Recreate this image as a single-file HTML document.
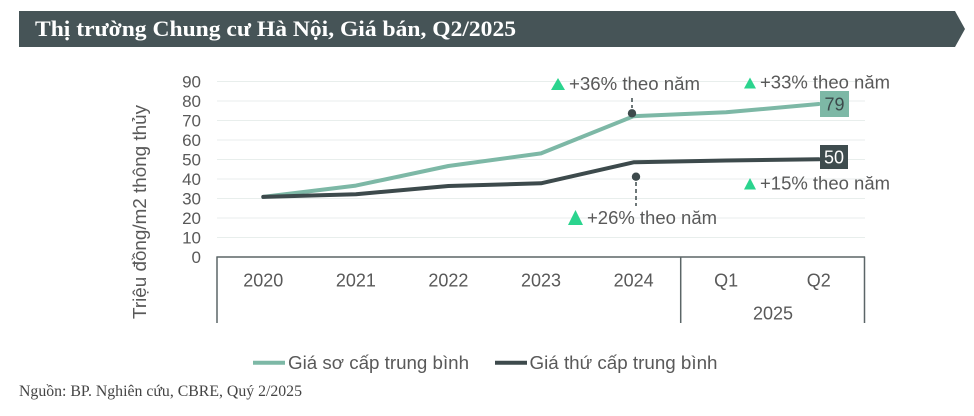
<!DOCTYPE html>
<html>
<head>
<meta charset="utf-8">
<style>
html,body{margin:0;padding:0;background:#fff;}
svg{display:block;}
</style>
</head>
<body>
<svg width="974" height="416" viewBox="0 0 974 416" xmlns="http://www.w3.org/2000/svg">
  <!-- Header bar -->
  <polygon points="19,11 955,11 965,29 955,47 19,47" fill="#465457"/>
  <text x="35" y="36" font-family="Liberation Serif, serif" font-weight="bold" font-size="22" fill="#ffffff" textLength="481" lengthAdjust="spacingAndGlyphs">Thị trường Chung cư Hà Nội, Giá bán, Q2/2025</text>

  <!-- Gridlines -->
  <g stroke="#e8eeec" stroke-width="1">
    <line x1="217" y1="81.5" x2="865" y2="81.5"/>
    <line x1="217" y1="101" x2="865" y2="101"/>
    <line x1="217" y1="120.5" x2="865" y2="120.5"/>
    <line x1="217" y1="140" x2="865" y2="140"/>
    <line x1="217" y1="159.5" x2="865" y2="159.5"/>
    <line x1="217" y1="179" x2="865" y2="179"/>
    <line x1="217" y1="198.5" x2="865" y2="198.5"/>
    <line x1="217" y1="218" x2="865" y2="218"/>
    <line x1="217" y1="237.5" x2="865" y2="237.5"/>
  </g>

  <!-- Axis box -->
  <g stroke="#5b6567" stroke-width="1.5" fill="none">
    <line x1="216.5" y1="257" x2="865" y2="257"/>
    <line x1="217" y1="256.5" x2="217" y2="323"/>
    <line x1="680.7" y1="256.5" x2="680.7" y2="323"/>
    <line x1="864.5" y1="256.5" x2="864.5" y2="323"/>
  </g>

  <!-- Y labels -->
  <g font-family="Liberation Sans, sans-serif" font-size="17" fill="#595959" text-anchor="end">
    <text x="201" y="87.5">90</text>
    <text x="201" y="107">80</text>
    <text x="201" y="126.5">70</text>
    <text x="201" y="146">60</text>
    <text x="201" y="165.5">50</text>
    <text x="201" y="185">40</text>
    <text x="201" y="204.5">30</text>
    <text x="201" y="224">20</text>
    <text x="201" y="243.5">10</text>
    <text x="201" y="263">0</text>
  </g>

  <!-- Y title -->
  <text transform="translate(146,212) rotate(-90)" text-anchor="middle" font-family="Liberation Sans, sans-serif" font-size="18" fill="#595959" textLength="214" lengthAdjust="spacingAndGlyphs">Triệu đồng/m2 thông thủy</text>

  <!-- X labels -->
  <g font-family="Liberation Sans, sans-serif" font-size="18" fill="#595959" text-anchor="middle">
    <text x="263.3" y="286.5">2020</text>
    <text x="355.9" y="286.5">2021</text>
    <text x="448.4" y="286.5">2022</text>
    <text x="541" y="286.5">2023</text>
    <text x="633.6" y="286.5">2024</text>
    <text x="726.1" y="286.5">Q1</text>
    <text x="818.7" y="286.5">Q2</text>
    <text x="773" y="319.5">2025</text>
  </g>

  <!-- Series -->
  <polyline points="263.3,196.9 355.9,185.6 448.4,166 541,153.4 633.6,116.2 726.1,112.3 818.7,104" fill="none" stroke="#7db8a6" stroke-width="4" stroke-linejoin="round" stroke-linecap="round"/>
  <polyline points="263.3,196.9 355.9,194.2 448.4,186 541,183.3 633.6,162.3 726.1,160.5 818.7,159.3" fill="none" stroke="#3d4a4c" stroke-width="4" stroke-linejoin="round" stroke-linecap="round"/>

  <!-- Value boxes -->
  <rect x="820" y="91" width="29" height="26" fill="#7db8a6"/>
  <text x="834.5" y="110.5" text-anchor="middle" font-family="Liberation Sans, sans-serif" font-size="18" fill="#3d4a4c">79</text>
  <rect x="820" y="145" width="28" height="24" fill="#3e4c4e"/>
  <text x="834" y="163.5" text-anchor="middle" font-family="Liberation Sans, sans-serif" font-size="18" fill="#ffffff">50</text>

  <!-- Annotation markers -->
  <line x1="632" y1="98" x2="632" y2="108" stroke="#3d4a4c" stroke-width="1.5" stroke-dasharray="4,3"/>
  <circle cx="632" cy="113.3" r="4.2" fill="#3d4a4c"/>
  <line x1="636" y1="182" x2="636" y2="206" stroke="#3d4a4c" stroke-width="1.5" stroke-dasharray="4,3"/>
  <circle cx="636" cy="176.7" r="4.2" fill="#3d4a4c"/>

  <!-- Annotations -->
  <g fill="#2bd48e">
    <polygon points="551,90 558,78 565,90"/>
    <polygon points="744,88.5 750,77.5 756,88.5"/>
    <polygon points="744,189.5 750,178 756,189.5"/>
    <polygon points="568,225 575.5,210 583,225"/>
  </g>
  <g font-family="Liberation Sans, sans-serif" font-size="18" fill="#595959">
    <text x="569" y="90" textLength="131" lengthAdjust="spacingAndGlyphs">+36% theo năm</text>
    <text x="760" y="88.5" textLength="130" lengthAdjust="spacingAndGlyphs">+33% theo năm</text>
    <text x="760" y="189.5" textLength="130" lengthAdjust="spacingAndGlyphs">+15% theo năm</text>
    <text x="587" y="224" textLength="130" lengthAdjust="spacingAndGlyphs">+26% theo năm</text>
  </g>

  <!-- Legend -->
  <line x1="253" y1="362.7" x2="285" y2="362.7" stroke="#7db8a6" stroke-width="4"/>
  <text x="288" y="369" font-family="Liberation Sans, sans-serif" font-size="18" fill="#595959" textLength="181" lengthAdjust="spacingAndGlyphs">Giá sơ cấp trung bình</text>
  <line x1="495" y1="362.7" x2="527" y2="362.7" stroke="#3d4a4c" stroke-width="4"/>
  <text x="529.5" y="369" font-family="Liberation Sans, sans-serif" font-size="18" fill="#595959" textLength="188" lengthAdjust="spacingAndGlyphs">Giá thứ cấp trung bình</text>

  <!-- Source -->
  <text x="19" y="396" font-family="Liberation Serif, serif" font-size="16" fill="#444" textLength="283" lengthAdjust="spacingAndGlyphs">Nguồn: BP. Nghiên cứu, CBRE, Quý 2/2025</text>
</svg>
</body>
</html>
